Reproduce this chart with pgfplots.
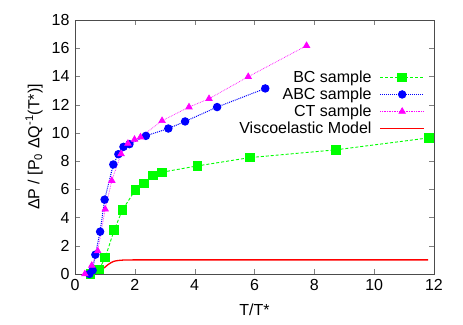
\documentclass[border=0pt]{standalone}
\usepackage{fontspec}
\setmainfont{Liberation Sans}
\usepackage{pgfplots}
\pgfplotsset{compat=1.18}
\definecolor{gpgreen}{RGB}{0,255,0}
\definecolor{gpblue}{RGB}{0,0,255}
\definecolor{gpmag}{RGB}{255,0,255}
\definecolor{gpred}{RGB}{255,0,0}
\begin{document}
\fontsize{16pt}{19pt}\selectfont
\begin{tikzpicture}
\begin{axis}[
    scale only axis,
    width=359pt, height=254pt,
    xmin=0, xmax=12, ymin=0, ymax=18,
    xtick={0,2,...,12}, ytick={0,2,...,18},
    tick align=inside, xtick pos=both, ytick pos=both,
    major tick length=5pt,
    /pgf/number format/assume math mode=true,
    tick label style={font=\fontsize{16pt}{19pt}\selectfont},
    label style={font=\fontsize{16pt}{19pt}\selectfont},
    xlabel={T/T*},
    ylabel={ΔP / [P\textsubscript{0} ΔQ\textsuperscript{-1}(T*)]},
    xlabel style={yshift=-2pt},
    ylabel style={yshift=-2pt},
    axis line style={line width=0.8pt, black!70},
    legend cell align=right,
    legend plot pos=right,
    legend style={draw=none, fill=none, inner sep=0pt, at={(0.975,0.81)}, anchor=north east,
        font=\fontsize{16pt}{19pt}\selectfont, row sep=-1pt, column sep=6pt},
    legend image code/.code={\draw[mark repeat=2,mark phase=2] plot coordinates {(0pt,0pt)(22pt,0pt)(44pt,0pt)};},
]
\addplot[gpgreen, densely dashed, line width=0.9pt, mark=square*, mark size=4.3pt, mark options={solid}]
coordinates {(0.52,0.0) (0.80,0.31) (1.01,1.16) (1.31,3.12) (1.59,4.56) (2.02,5.96) (2.31,6.43) (2.60,6.98) (2.90,7.21) (4.09,7.66) (5.85,8.25) (8.72,8.80) (11.84,9.65)};
\addlegendentry{BC sample}
\addplot[gpblue, densely dotted, line width=1pt, mark=*, mark size=3.7pt, mark options={solid}]
coordinates {(0.48,0.0) (0.59,0.26) (0.68,1.37) (0.84,3.00) (0.99,5.27) (1.28,7.76) (1.45,8.49) (1.62,9.01) (1.82,9.20) (2.37,9.79) (3.12,10.31) (3.68,10.81) (4.75,11.83) (6.36,13.15)};
\addlegendentry{ABC sample}
\addplot[gpmag, densely dotted, line width=0.7pt, mark=triangle*, mark size=3.7pt, mark options={solid}]
coordinates {(0.33,0.0) (0.56,0.60) (0.76,1.63) (1.01,4.59) (1.23,6.62) (1.54,8.51) (1.77,9.25) (1.99,9.53) (2.19,9.70) (2.91,10.86) (3.81,11.83) (4.48,12.42) (5.79,13.98) (7.74,16.18)};
\addlegendentry{CT sample}
\addplot[gpred, line width=1.3pt, smooth]
coordinates {(0.33,0.05) (0.5,0.10) (0.7,0.18) (0.85,0.28) (1.0,0.48) (1.1,0.66) (1.2,0.80) (1.3,0.90) (1.45,0.96) (1.6,0.985) (2.0,1.0) (4.0,1.0) (8.0,1.0) (11.8,1.0)};
\addlegendentry{Viscoelastic Model}
\end{axis}
\pgfresetboundingbox
\path ([shift={(-75pt,-50pt)}]current axis.south west) rectangle ([shift={(29pt,20pt)}]current axis.north east);
\end{tikzpicture}
\end{document}
